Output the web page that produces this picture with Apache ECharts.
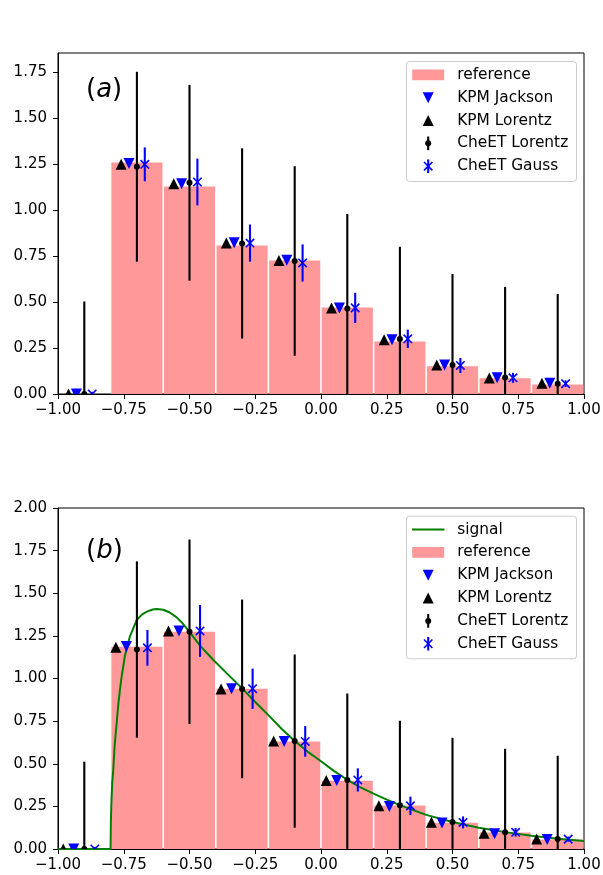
<!DOCTYPE html>
<html>
<head>
<meta charset="utf-8">
<script src="https://cdn.jsdelivr.net/npm/echarts@6/dist/echarts.min.js"></script>
<style>
  html, body { margin: 0; padding: 0; background: #fff; }
  #chart { width: 603px; height: 875px; }
</style>
</head>
<body>
<div id="chart"></div>
<script>
// ---- shared axes ----
const binEdges = [-1.0, -0.8, -0.6, -0.4, -0.2, 0.0, 0.2, 0.4, 0.6, 0.8, 1.0];
const binCenters = [-0.9, -0.7, -0.5, -0.3, -0.1, 0.1, 0.3, 0.5, 0.7, 0.9];
const xTickValues = [-1.0, -0.75, -0.5, -0.25, 0.0, 0.25, 0.5, 0.75, 1.0];
const yTickValuesA = [0.0, 0.25, 0.5, 0.75, 1.0, 1.25, 1.5, 1.75];
const yTickValuesB = [0.0, 0.25, 0.5, 0.75, 1.0, 1.25, 1.5, 1.75, 2.0];

// ---- panel (a) ----
const referenceA     = [0.0, 1.262, 1.132, 0.811, 0.730, 0.474, 0.290, 0.155, 0.089, 0.056];
const kpmJacksonA    = [0.0, 1.253, 1.143, 0.822, 0.727, 0.468, 0.295, 0.158, 0.088, 0.058];
const kpmLorentzA    = [0.0, 1.248, 1.143, 0.821, 0.726, 0.467, 0.295, 0.158, 0.087, 0.058];
const cheetLorentzA  = [0.0, 1.235, 1.148, 0.818, 0.723, 0.465, 0.299, 0.158, 0.089, 0.056];
const cheetLorentzErrA = [0.503, 0.516, 0.532, 0.517, 0.515, 0.513, 0.501, 0.494, 0.493, 0.487];
const cheetGaussA    = [0.0, 1.248, 1.152, 0.820, 0.712, 0.468, 0.300, 0.155, 0.088, 0.056];
const cheetGaussErrA = [0.012, 0.092, 0.127, 0.101, 0.101, 0.082, 0.050, 0.041, 0.027, 0.018];

// ---- panel (b) ----
const referenceB     = [0.0, 1.191, 1.279, 0.945, 0.635, 0.404, 0.260, 0.158, 0.101, 0.060];
const kpmJacksonB    = [0.0, 1.188, 1.279, 0.940, 0.630, 0.402, 0.250, 0.152, 0.090, 0.055];
const kpmLorentzB    = [0.0, 1.183, 1.279, 0.938, 0.633, 0.402, 0.253, 0.157, 0.092, 0.058];
const cheetLorentzB  = [0.0, 1.170, 1.274, 0.939, 0.633, 0.404, 0.256, 0.158, 0.098, 0.059];
const cheetLorentzErrB = [0.512, 0.517, 0.541, 0.524, 0.508, 0.508, 0.496, 0.494, 0.490, 0.488];
const cheetGaussB    = [0.0, 1.180, 1.279, 0.940, 0.631, 0.405, 0.253, 0.156, 0.098, 0.058];
const cheetGaussErrB = [0.012, 0.105, 0.152, 0.118, 0.090, 0.068, 0.054, 0.035, 0.025, 0.015];

// exact density curve shown in panel (b)
const signalX = [-1.0, -0.8, -0.799, -0.797, -0.794, -0.79, -0.785, -0.778, -0.77, -0.76,
  -0.746, -0.727, -0.70, -0.68, -0.66, -0.64, -0.625, -0.60, -0.575, -0.55,
  -0.53, -0.50, -0.46, -0.41, -0.36, -0.30, -0.25, -0.20, -0.15, -0.10,
  -0.05, 0.0, 0.05, 0.10, 0.15, 0.20, 0.25, 0.30, 0.40, 0.50,
  0.60, 0.70, 0.80, 0.90, 1.0];
const signalY = [0.0, 0.0, 0.16, 0.27, 0.385, 0.46, 0.60, 0.72, 0.86, 0.99,
  1.13, 1.245, 1.345, 1.376, 1.394, 1.405, 1.408, 1.403, 1.387, 1.360,
  1.330, 1.274, 1.193, 1.110, 1.033, 0.942, 0.862, 0.785, 0.705, 0.633,
  0.570, 0.515, 0.457, 0.406, 0.362, 0.325, 0.290, 0.257, 0.200, 0.158,
  0.125, 0.099, 0.078, 0.060, 0.047];

// ---- styling ----
const FONT = 'DejaVu Sans';
const PINK = '#ff9999';
const BLUE = '#0000ff';
const BLACK = '#000000';
const GREEN = '#008000';
const TICK_FONT_SIZE = 15;
const LEGEND_FONT_SIZE = 15.4;

const layout = [
  { top: 53, height: 341, yMax: 1.853, yTicks: yTickValuesA, dodge: 0.03 },
  { top: 508, height: 341, yMax: 2.0, yTicks: yTickValuesB, dodge: 0.04 }
];
const GRID_LEFT = 58, GRID_WIDTH = 526;

const fmt = v => (v < 0 ? '\u2212' : '') + Math.abs(v).toFixed(2);

// marker glyphs, shared by the plot and the legends
function glyph(kind, cx, cy, color) {
  const h = 5.5;
  switch (kind) {
    case 'triUp':
      return { type: 'polygon', shape: { points: [[cx, cy - h], [cx - h, cy + h], [cx + h, cy + h]] },
               style: { fill: color } };
    case 'triDown':
      return { type: 'polygon', shape: { points: [[cx - h, cy - h], [cx + h, cy - h], [cx, cy + h]] },
               style: { fill: color } };
    case 'dot':
      return { type: 'circle', shape: { cx: cx, cy: cy, r: 3 }, style: { fill: color } };
    case 'cross': {
      const c = 4.2;
      return { type: 'group', children: [
        { type: 'line', shape: { x1: cx - c, y1: cy - c, x2: cx + c, y2: cy + c }, style: { stroke: color, lineWidth: 1.6 } },
        { type: 'line', shape: { x1: cx - c, y1: cy + c, x2: cx + c, y2: cy - c }, style: { stroke: color, lineWidth: 1.6 } }
      ] };
    }
  }
  return null;
}

function histogramSeries(idx, heights) {
  return {
    type: 'custom', name: 'reference', xAxisIndex: idx, yAxisIndex: idx, clip: true, z: 1,
    data: heights.map((h, i) => [binEdges[i], binEdges[i + 1], h]),
    encode: { x: [0, 1], y: 2 },
    renderItem(params, api) {
      const h = api.value(2);
      if (!(h > 0)) return null;
      const p0 = api.coord([api.value(0), 0]);
      const p1 = api.coord([api.value(1), h]);
      const inset = 0.75;
      return {
        type: 'rect',
        shape: { x: p0[0] + inset, y: p1[1] + inset, width: p1[0] - p0[0] - 2 * inset, height: p0[1] - p1[1] - inset },
        style: { fill: PINK }
      };
    }
  };
}

function markerSeries(idx, name, shift, ys, errs, kind, color, z) {
  return {
    type: 'custom', name: name, xAxisIndex: idx, yAxisIndex: idx, clip: true, z: z,
    data: ys.map((y, i) => [binCenters[i] + shift, y, errs ? errs[i] : 0]),
    encode: { x: 0, y: 1 },
    renderItem(params, api) {
      const x = api.value(0), y = api.value(1), e = api.value(2);
      const c = api.coord([x, y]);
      const children = [];
      if (e > 0) {
        const lo = api.coord([x, y - e]);
        const hi = api.coord([x, y + e]);
        children.push({ type: 'line', shape: { x1: lo[0], y1: lo[1], x2: hi[0], y2: hi[1] },
                        style: { stroke: color, lineWidth: 2.1 } });
      }
      children.push(glyph(kind, c[0], c[1], color));
      return { type: 'group', children: children };
    }
  };
}

function legendBox(left, top, width, height, rows) {
  const hx = 21.7, tx = 50.7, first = 13.3, step = 22.85;
  const children = [{
    type: 'rect', shape: { x: 0, y: 0, width: width, height: height, r: 3 },
    style: { fill: 'rgba(255,255,255,0.8)', stroke: '#cccccc', lineWidth: 1 }
  }];
  rows.forEach((row, i) => {
    const y = first + i * step;
    if (row.kind === 'line') {
      children.push({ type: 'line', shape: { x1: hx - 16.2, y1: y, x2: hx + 16.2, y2: y },
                      style: { stroke: row.color, lineWidth: 2 } });
    } else if (row.kind === 'patch') {
      children.push({ type: 'rect', shape: { x: hx - 16, y: y - 5.4, width: 32, height: 10.8 },
                      style: { fill: row.color } });
    } else {
      if (row.err) {
        children.push({ type: 'line', shape: { x1: hx, y1: y - 6.8, x2: hx, y2: y + 6.8 },
                        style: { stroke: row.color, lineWidth: 2.1 } });
      }
      children.push(glyph(row.kind, hx, y, row.color));
    }
    children.push({ type: 'text', x: tx, y: y,
      style: { text: row.label, fill: '#000', font: LEGEND_FONT_SIZE + 'px "' + FONT + '"',
               textVerticalAlign: 'middle', textAlign: 'left' } });
  });
  return { type: 'group', left: left, top: top, children: children, z: 50 };
}

function panelTag(letter, y) {
  return {
    type: 'text', left: 86, top: y, z: 50,
    style: {
      text: '{p|(}{i|' + letter + '}{p|)}',
      rich: {
        p: { fontFamily: FONT, fontSize: 26, fill: '#000' },
        i: { fontFamily: FONT, fontSize: 26, fontStyle: 'italic', fill: '#000' }
      }
    }
  };
}

const grids = layout.map(p => ({
  left: GRID_LEFT, top: p.top, width: GRID_WIDTH, height: p.height,
  show: true, borderColor: '#000', borderWidth: 1, backgroundColor: 'transparent',
  containLabel: false, outerBoundsMode: 'none'
}));

const xAxes = layout.map((p, i) => ({
  type: 'value', gridIndex: i, min: -1, max: 1, interval: 0.25,
  axisLine: { show: true, onZero: false, lineStyle: { color: '#000', width: 1 } },
  axisTick: { show: true, inside: false, length: 5, lineStyle: { color: '#000', width: 1 }, customValues: xTickValues },
  axisLabel: { show: true, color: '#000', fontFamily: FONT, fontSize: TICK_FONT_SIZE, margin: 9, formatter: fmt, customValues: xTickValues },
  splitLine: { show: false }
}));

const yAxes = layout.map((p, i) => ({
  type: 'value', gridIndex: i, min: 0, max: p.yMax, interval: 0.25,
  axisLine: { show: true, onZero: false, lineStyle: { color: '#000', width: 1 } },
  axisTick: { show: true, inside: false, length: 5, lineStyle: { color: '#000', width: 1 }, customValues: p.yTicks },
  axisLabel: { show: true, color: '#000', fontFamily: FONT, fontSize: TICK_FONT_SIZE, margin: 11, formatter: fmt, customValues: p.yTicks },
  splitLine: { show: false }
}));

const dA = layout[0].dodge, dB = layout[1].dodge;

const series = [
  // panel (a)
  histogramSeries(0, referenceA),
  markerSeries(0, 'KPM Jackson', -dA, kpmJacksonA, null, 'triDown', BLUE, 3),
  markerSeries(0, 'KPM Lorentz', -2 * dA, kpmLorentzA, null, 'triUp', BLACK, 3),
  markerSeries(0, 'CheET Lorentz', 0, cheetLorentzA, cheetLorentzErrA, 'dot', BLACK, 4),
  markerSeries(0, 'CheET Gauss', dA, cheetGaussA, cheetGaussErrA, 'cross', BLUE, 5),
  // panel (b)
  histogramSeries(1, referenceB),
  {
    type: 'line', name: 'signal', xAxisIndex: 1, yAxisIndex: 1, z: 2,
    data: signalX.map((x, i) => [x, signalY[i]]),
    showSymbol: false, symbol: 'none', smooth: false, clip: true,
    lineStyle: { color: GREEN, width: 2 }, animation: false
  },
  markerSeries(1, 'KPM Jackson', -dB, kpmJacksonB, null, 'triDown', BLUE, 3),
  markerSeries(1, 'KPM Lorentz', -2 * dB, kpmLorentzB, null, 'triUp', BLACK, 3),
  markerSeries(1, 'CheET Lorentz', 0, cheetLorentzB, cheetLorentzErrB, 'dot', BLACK, 4),
  markerSeries(1, 'CheET Gauss', dB, cheetGaussB, cheetGaussErrB, 'cross', BLUE, 5)
];

const legendRowsA = [
  { label: 'reference', kind: 'patch', color: PINK },
  { label: 'KPM Jackson', kind: 'triDown', color: BLUE },
  { label: 'KPM Lorentz', kind: 'triUp', color: BLACK },
  { label: 'CheET Lorentz', kind: 'dot', color: BLACK, err: true },
  { label: 'CheET Gauss', kind: 'cross', color: BLUE, err: true }
];
const legendRowsB = [{ label: 'signal', kind: 'line', color: GREEN }].concat(legendRowsA);

const chart = echarts.init(document.getElementById('chart'), null, { renderer: 'canvas' });
chart.setOption({
  animation: false,
  backgroundColor: '#ffffff',
  grid: grids,
  xAxis: xAxes,
  yAxis: yAxes,
  series: series,
  graphic: [
    panelTag('a', 77.5),
    panelTag('b', 538.5),
    legendBox(406, 61, 170, 120, legendRowsA),
    legendBox(406, 515.7, 170, 142.6, legendRowsB)
  ]
});
</script>
</body>
</html>
